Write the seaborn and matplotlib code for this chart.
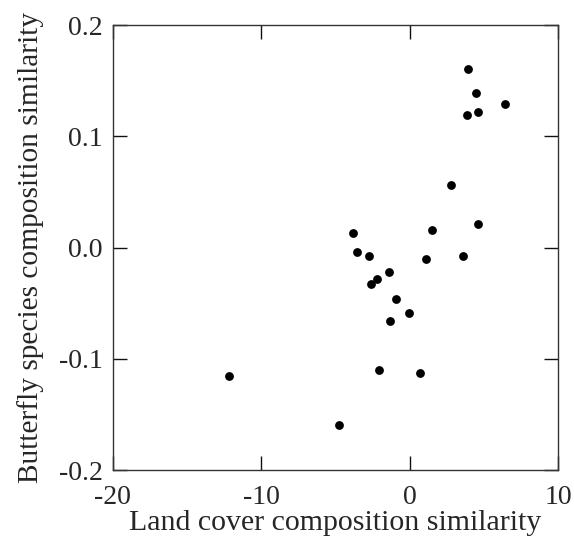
import matplotlib
matplotlib.use("Agg")
import matplotlib.pyplot as plt
import seaborn as sns
import pandas as pd

land_cover = [-3.84, -3.57, -2.72, -1.38, -2.23, -2.63, -0.95, -0.05, -1.33,
              1.52, 1.07, 3.56, 4.61, 3.94, 4.48, 6.41, 3.85, 4.57, 2.78,
              -12.17, -2.09, 0.71, -4.76]
butterfly = [0.0134, -0.0036, -0.0072, -0.0216, -0.0282, -0.0327, -0.0462, -0.0588, -0.066,
             0.0159, -0.0102, -0.0072, 0.0215, 0.1604, 0.1388, 0.1292, 0.119, 0.1223, 0.0561,
             -0.1157, -0.1098, -0.113, -0.1593]
x_ticks = [-20, -10, 0, 10]
y_ticks = [-0.2, -0.1, 0.0, 0.1, 0.2]
y_tick_labels = ["-0.2", "-0.1", "0.0", "0.1", "0.2"]
x_tick_labels = ["-20", "-10", "0", "10"]

df = pd.DataFrame({"land": land_cover, "butterfly": butterfly})

sns.set_style("ticks")
plt.rcParams["font.family"] = ["Liberation Serif", "DejaVu Serif"]

fig = plt.figure(figsize=(5.74, 5.43), dpi=100)
ax = fig.add_axes([0.1963, 0.1344, 0.7763, 0.819])
sns.scatterplot(data=df, x="land", y="butterfly", ax=ax, color="black",
                s=40, edgecolor="black", linewidth=0)
ax.set_xlim(-20, 10)
ax.set_ylim(-0.2, 0.2)
ax.set_xticks(x_ticks)
ax.set_xticklabels(x_tick_labels)
ax.set_yticks(y_ticks)
ax.set_yticklabels(y_tick_labels)
for s in ax.spines.values():
    s.set_visible(True)
    s.set_color("#333333")
    s.set_linewidth(1.0)
ax.tick_params(direction="in", length=10, width=1.0, color="#111111",
               top=True, right=True, labelsize=20)
ax.tick_params(axis="x", pad=10.5)
ax.tick_params(axis="y", pad=7)
ax.set_xlabel("Land cover composition similarity", fontsize=21.5, labelpad=0)
ax.set_ylabel("Butterfly species composition similarity", fontsize=21.2, labelpad=11)
fig.savefig("out.png", dpi=100)
